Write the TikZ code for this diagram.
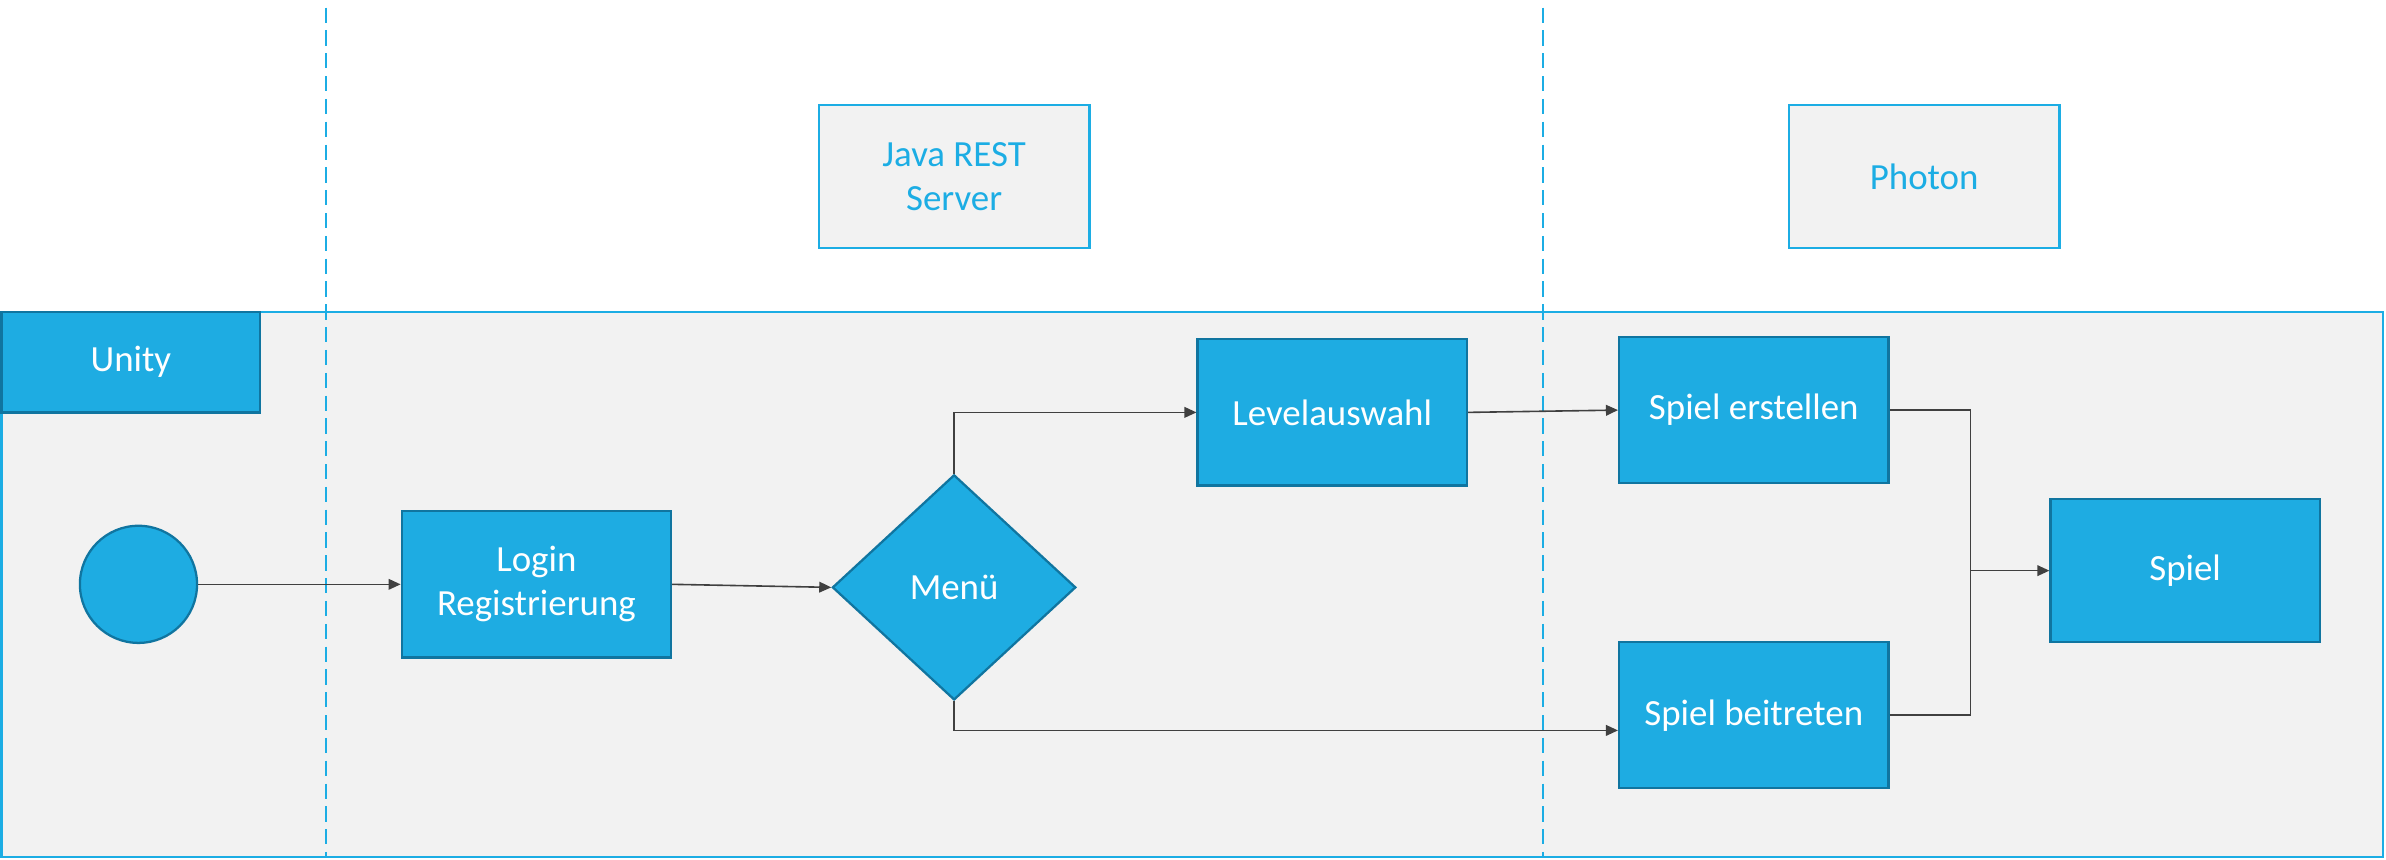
\documentclass[tikz,border=0pt]{standalone}
\usepackage{fontspec}
\setmainfont{Carlito}
\usetikzlibrary{positioning,shapes.geometric,arrows.meta}

\definecolor{boxblue}{RGB}{30,172,226}
\definecolor{boxedge}{RGB}{16,117,160}
\definecolor{lanecyan}{RGB}{28,173,228}
\definecolor{lanegrey}{RGB}{242,242,242}
\definecolor{linegrey}{RGB}{64,64,64}

\begin{document}
\begin{tikzpicture}[
    x=0.02cm, y=0.02cm,
    block/.style={rectangle, draw=boxedge, fill=boxblue, line width=0.85pt, text=white, align=center, minimum width=3.54cm, minimum height=1.92cm, font=\fontsize{13.8}{16.5}\selectfont},
    decision/.style={diamond, draw=boxedge, fill=boxblue, line width=0.85pt, text=white, inner sep=0pt, minimum width=3.2cm, minimum height=2.96cm, font=\fontsize{13.8}{16.5}\selectfont},
    start/.style={circle, draw=boxedge, fill=boxblue, line width=0.85pt, minimum size=1.54cm},
    server/.style={rectangle, draw=lanecyan, fill=lanegrey, line width=0.85pt, text=lanecyan, align=center, minimum width=3.56cm, minimum height=1.88cm, font=\fontsize{13.8}{16.5}\selectfont},
    lane/.style={draw=lanecyan, fill=lanegrey, line width=0.85pt},
    divider/.style={draw=lanecyan, line width=0.7pt, dash pattern=on 0.2cm off 0.1cm},
    arrow/.style={-{Triangle[length=4.5pt,width=4pt]}, draw=linegrey, line width=0.6pt},
    link/.style={draw=linegrey, line width=0.6pt}
]
\useasboundingbox (0,0) rectangle (1568,-565);

% Swimlane
\draw[lane] (1,-205) rectangle (1566,-563);
\node[block, minimum width=3.4cm, minimum height=1.32cm] (unity) at (86,-238) {Unity};

% Servers
\node[server] (java) at (627,-116) {Java REST\\Server};
\node[server] (photon) at (1264.5,-116) {Photon};

% Dividers
\coordinate (d1top) at (214,-5);
\coordinate (d1bot) at (214,-563);
\coordinate (d2top) at (1014,-5);
\coordinate (d2bot) at (1014,-563);
\draw[divider] (d1top) -- (d1bot);
\draw[divider] (d2top) -- (d2bot);

% Blocks
\node[start] (start) at (91,-384) {};
\node[block] (login) at (352.5,-384) {Login\\Registrierung};
\node[decision] (menu) at (627,-386) {Menü};
\node[block] (level) at (875.5,-271) {Levelauswahl};
\node[block] (create) at (1152.5,-269.5) {Spiel erstellen};
\node[block] (join) at (1152.5,-470) {Spiel beitreten};
\node[block, minimum height=1.88cm] (game) at (1436,-375) {Spiel};
\coordinate (merge) at (1295,-375);

% Flow
\draw[arrow] (start) -- (login);
\draw[arrow] (login.east) -- (menu.west);
\draw[arrow] (menu.north) |- (level.west);
\draw[arrow] (level.east) -- (create.west);
\draw[arrow] (menu.south) |- ([yshift=-0.2cm]join.west);
\draw[link] (create.east) -| (merge);
\draw[link] (join.east) -| (merge);
\draw[arrow] (merge) -- (game.west);

\end{tikzpicture}
\end{document}
